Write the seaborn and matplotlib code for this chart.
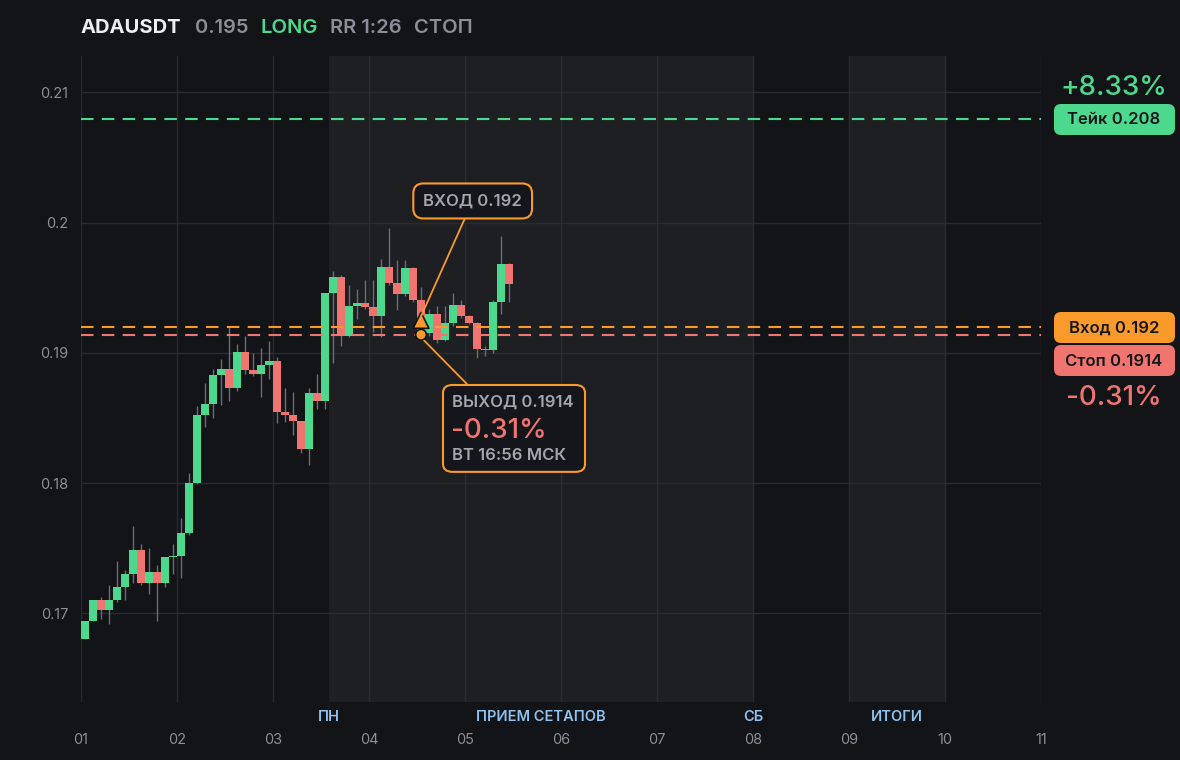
import matplotlib
matplotlib.use("Agg")
import matplotlib.pyplot as plt
from matplotlib.patches import FancyBboxPatch
import numpy as np
import pandas as pd
import seaborn as sns

# candles (2h bars, 12 per day)
opens = [0.1680, 0.1694, 0.1710, 0.1703, 0.1710, 0.1720, 0.1730, 0.1749, 0.1723, 0.1732,
         0.1723, 0.1743, 0.1744, 0.1762, 0.1800, 0.1852, 0.1861, 0.1883, 0.1888, 0.1873,
         0.1901, 0.1887, 0.1884, 0.1891, 0.1894, 0.1855, 0.1852, 0.1848, 0.1826, 0.1869,
         0.1863, 0.1946, 0.1958, 0.1913, 0.1936, 0.1938, 0.1935, 0.1928, 0.1966, 0.1954,
         0.1945, 0.1965, 0.1941, 0.1915, 0.1930, 0.1910, 0.1923, 0.1937, 0.1928, 0.1923,
         0.1903, 0.1902, 0.1939, 0.1968]
closes = [0.1694, 0.1710, 0.1703, 0.1710, 0.1720, 0.1730, 0.1749, 0.1723, 0.1732, 0.1723,
          0.1743, 0.1744, 0.1762, 0.1800, 0.1852, 0.1861, 0.1883, 0.1888, 0.1873, 0.1901,
          0.1887, 0.1884, 0.1891, 0.1894, 0.1855, 0.1852, 0.1848, 0.1826, 0.1869, 0.1863,
          0.1946, 0.1958, 0.1913, 0.1936, 0.1938, 0.1935, 0.1928, 0.1966, 0.1954, 0.1945,
          0.1965, 0.1941, 0.1915, 0.1930, 0.1910, 0.1923, 0.1937, 0.1928, 0.1923, 0.1903,
          0.1902, 0.1939, 0.1968, 0.1953]
highs = [0.1694, 0.1710, 0.1713, 0.1722, 0.1740, 0.1733, 0.1767, 0.1753, 0.1750, 0.1737,
         0.1743, 0.1753, 0.1773, 0.1808, 0.1859, 0.1877, 0.1888, 0.1895, 0.1921, 0.1907,
         0.1913, 0.1900, 0.1904, 0.1909, 0.1897, 0.1873, 0.1870, 0.1848, 0.1873, 0.1884,
         0.1946, 0.1963, 0.1960, 0.1952, 0.1949, 0.1956, 0.1956, 0.1972, 0.1996, 0.1971,
         0.1971, 0.1966, 0.1951, 0.1934, 0.1936, 0.1936, 0.1946, 0.1941, 0.1929, 0.1924,
         0.1905, 0.1941, 0.1990, 0.1969]
lows = [0.1680, 0.1694, 0.1696, 0.1692, 0.1709, 0.1710, 0.1723, 0.1722, 0.1715, 0.1694,
        0.1720, 0.1730, 0.1727, 0.1760, 0.1799, 0.1843, 0.1850, 0.1860, 0.1863, 0.1871,
        0.1884, 0.1882, 0.1866, 0.1880, 0.1846, 0.1847, 0.1837, 0.1823, 0.1814, 0.1857,
        0.1857, 0.1892, 0.1905, 0.1912, 0.1926, 0.1934, 0.1916, 0.1912, 0.1952, 0.1933,
        0.1944, 0.1939, 0.1912, 0.1913, 0.1908, 0.1909, 0.1921, 0.1927, 0.1922, 0.1896,
        0.1898, 0.1900, 0.1930, 0.1939]

day_ticks = [1, 2, 3, 4, 5, 6, 7, 8, 9, 10, 11]
day_labels = ["01", "02", "03", "04", "05", "06", "07", "08", "09", "10", "11"]
price_ticks = [0.17, 0.18, 0.19, 0.2, 0.21]
price_labels = ["0.17", "0.18", "0.19", "0.2", "0.21"]

# shaded sessions and their labels
sessions = [(3.583, 8.0), (9.0, 10.0)]
session_labels = ["ПН", "ПРИЕМ СЕТАПОВ", "СБ", "ИТОГИ"]
session_label_x = [3.583, 5.79, 8.0, 9.5]

take_price = 0.208
entry_price = 0.192
stop_price = 0.1914
entry_bar = 42

BG = "#131418"
SHADE = "#1e1f23"
GRID = "#2a2b30"
GREEN = "#4cd98d"
RED = "#f07470"
ORANGE = "#f99a2a"
TXT = "#8b8e97"

sns.set_theme(style="dark", rc={"axes.facecolor": BG, "figure.facecolor": BG})
plt.rcParams["font.family"] = ["Inter", "DejaVu Sans"]

df = pd.DataFrame({"open": opens, "close": closes, "high": highs, "low": lows})
df["x"] = 1 + (np.arange(len(df)) + 0.5) / 12
df["up"] = df["close"] >= df["open"]

fig = plt.figure(figsize=(11.8, 7.6), dpi=100)
ax = fig.add_axes([81 / 1180, 1 - 702 / 760, 960 / 1180, 646 / 760])
ax.set_facecolor(BG)

for a, b in sessions:
    ax.axvspan(a, b, color=SHADE, zorder=0, lw=0)

ax.set_xlim(1, 11)
ax.set_ylim(0.1632, 0.2128)
ax.set_xticks(day_ticks)
ax.set_xticklabels(day_labels)
ax.set_yticks(price_ticks)
ax.set_yticklabels(price_labels)
ax.grid(True, color=GRID, lw=1, zorder=0.5)
ax.tick_params(colors=TXT, labelsize=10.5, length=0)
ax.tick_params(axis="x", pad=22)
ax.tick_params(axis="y", pad=9)
for s in ax.spines.values():
    s.set_visible(False)

# wicks + bodies
ax.vlines(df["x"], df["low"], df["high"], color="#6a6d75", lw=1, zorder=2)
cols = np.where(df["up"], GREEN, RED)
bottoms = np.minimum(df["open"], df["close"])
heights = np.maximum(np.abs(df["close"] - df["open"]), 0.00012)
ax.bar(df["x"], heights, bottom=bottoms, width=1 / 12, color=cols, lw=0, zorder=3)

# levels
ax.axhline(take_price, color=GREEN, lw=1.5, ls=(0, (6, 4)), zorder=4)
ax.axhline(entry_price, color=ORANGE, lw=1.5, ls=(0, (6, 4)), zorder=4)
ax.axhline(stop_price, color=RED, lw=1.5, ls=(0, (6, 4)), zorder=4)

# entry / exit markers
ex = df["x"][entry_bar]
mk = pd.DataFrame({"x": [ex, ex], "y": [entry_price + 0.0005, stop_price], "m": ["up", "dot"]})
sns.scatterplot(data=mk, x="x", y="y", style="m", markers={"up": "^", "dot": "o"},
                color=ORANGE, s=[130, 60], edgecolor="#111216", linewidth=1.2,
                legend=False, zorder=6, ax=ax)
ax.set_xlabel("")
ax.set_ylabel("")

# ВХОД callout
ax.annotate("ВХОД 0.192", xy=(ex, entry_price + 0.0008), xytext=(5.08, 0.20167),
            ha="center", va="center", color="#a3a6ae", fontsize=12, fontweight="semibold",
            bbox=dict(boxstyle="round,pad=0.6,rounding_size=0.6", fc="#15161b", ec=ORANGE, lw=1.5),
            arrowprops=dict(arrowstyle="-", color=ORANGE, lw=1.3, shrinkA=0, shrinkB=0),
            zorder=7)

# ВЫХОД callout
ax.plot([ex, 5.03], [stop_price - 0.0002, 0.18754], color=ORANGE, lw=1.3, zorder=5)
box = FancyBboxPatch((4.771, 0.18087), 6.25 - 4.771, 0.18754 - 0.18087,
                     boxstyle="round,pad=0,rounding_size=0.1", fc="#15161b", ec=ORANGE, lw=1.5,
                     mutation_aspect=0.0006 / 0.1, zorder=7)
ax.add_patch(box)
ax.text(4.86, 0.18624, "ВЫХОД 0.1914", color="#a3a6ae", fontsize=12, fontweight="semibold",
        va="center", zorder=8)
ax.text(4.855, 0.18401, "-0.31%", color=RED, fontsize=20, fontweight="medium", va="center", zorder=8)
ax.text(4.86, 0.18210, "ВТ 16:56 МСК", color="#a3a6ae", fontsize=12, fontweight="semibold",
        va="center", zorder=8)

# session labels under the axis
for lbl, sx in zip(session_labels, session_label_x):
    ax.text(sx, -0.023, lbl, transform=ax.get_xaxis_transform(), ha="center", va="center",
            color="#8ec3f0", fontsize=10.5, fontweight="semibold")

# header
hy = 1 - 28 / 760
fig.text(81 / 1180, hy, "ADAUSDT", color="#eeeef0", fontsize=14.5, fontweight="bold", va="center")
fig.text(195 / 1180, hy, "0.195", color=TXT, fontsize=14.5, fontweight="semibold", va="center")
fig.text(261 / 1180, hy, "LONG", color=GREEN, fontsize=14.5, fontweight="semibold", va="center")
fig.text(330 / 1180, hy, "RR 1:26", color=TXT, fontsize=14.5, fontweight="semibold", va="center")
fig.text(414 / 1180, hy, "СТОП", color=TXT, fontsize=14.5, fontweight="semibold", va="center")

# right side price tags
def tag(y, text, fc):
    fig.patches.append(FancyBboxPatch((1054 / 1180, 1 - (y + 15) / 760), 121 / 1180, 31 / 760,
                                      boxstyle="round,pad=0,rounding_size=0.006",
                                      transform=fig.transFigure, fc=fc, ec="none",
                                      mutation_aspect=1180 / 760))
    fig.text(1114 / 1180, 1 - y / 760, text, color="#15161a", fontsize=12,
             fontweight="semibold", ha="center", va="center")

tag(120, "Тейк 0.208", GREEN)
tag(328, "Вход 0.192", ORANGE)
tag(361, "Стоп 0.1914", RED)
fig.text(1114 / 1180, 1 - 88 / 760, "+8.33%", color=GREEN, fontsize=20, fontweight="medium",
         ha="center", va="center")
fig.text(1114 / 1180, 1 - 398 / 760, "-0.31%", color=RED, fontsize=20, fontweight="medium",
         ha="center", va="center")

fig.savefig("out.png", dpi=100, facecolor=BG)
